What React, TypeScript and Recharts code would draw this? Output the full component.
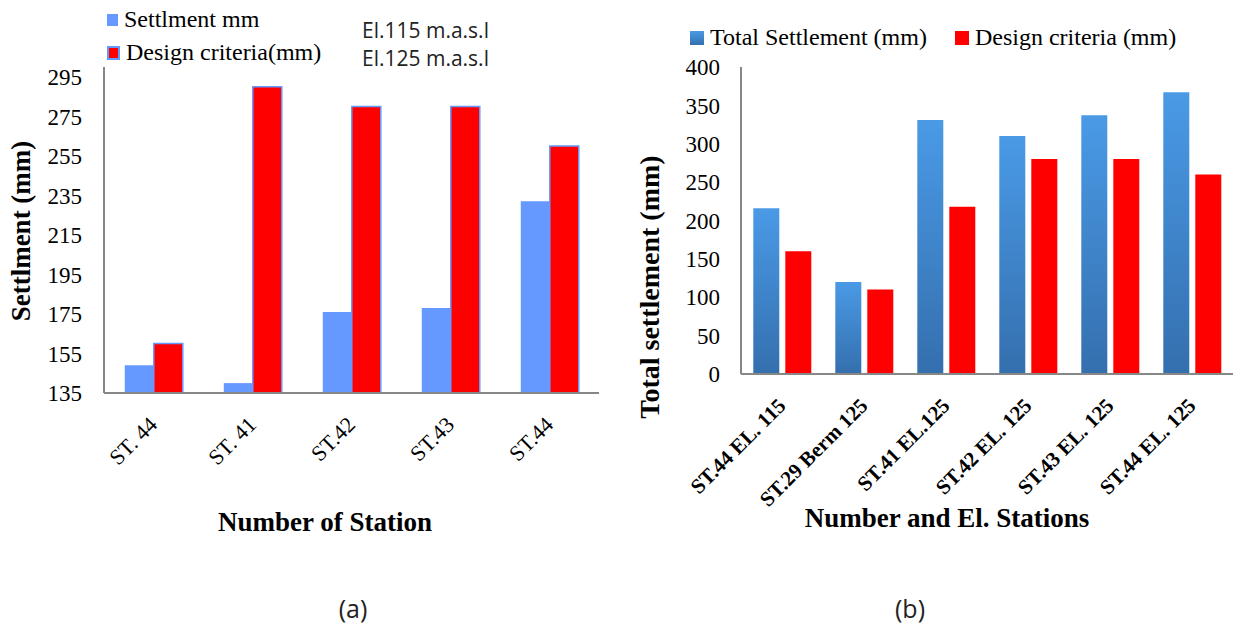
import React from 'react';
import { BarChart, Bar, XAxis, YAxis, Legend } from 'recharts';

// panel (a)
const stationsA = ['ST. 44', 'ST. 41', 'ST.42', 'ST.43', 'ST.44'];
const settlementA = [149, 140, 176, 178, 232];
const criteriaA = [160, 290, 280, 280, 260];
const ticksA = [135, 155, 175, 195, 215, 235, 255, 275, 295];

// panel (b)
const stationsB = ['ST.44 EL. 115', 'ST.29 Berm 125', 'ST.41 EL.125', 'ST.42 EL. 125', 'ST.43 EL. 125', 'ST.44 EL. 125'];
const totalB = [216, 120, 331, 310, 337, 367];
const criteriaB = [160, 110, 218, 280, 280, 260];
const ticksB = [0, 50, 100, 150, 200, 250, 300, 350, 400];

const dataA = stationsA.map((name, i) => ({ name, settlement: settlementA[i], criteria: criteriaA[i] }));
const dataB = stationsB.map((name, i) => ({ name, total: totalB[i], criteria: criteriaB[i] }));

const keysA = ['settlement', 'criteria'];
const keysB = ['total', 'criteria'];

const serif = '"Liberation Serif", "Times New Roman", serif';
const sans = '"Open Sans", "DejaVu Sans", sans-serif';
const frame = '#878787';

const ordered = (payload: any[] | undefined, keys: string[]) =>
  [...(payload || [])].sort((a, b) => keys.indexOf(a.dataKey) - keys.indexOf(b.dataKey));

const slantTick = (fontSize: number, fontWeight: string | number) => (props: any) => {
  const { x, y, payload } = props;
  const ax = x + 5;
  const ay = y + 33;
  return (
    <text
      x={ax}
      y={ay}
      transform={`rotate(-45 ${ax} ${ay})`}
      textAnchor="end"
      fontFamily={serif}
      fontSize={fontSize}
      fontWeight={fontWeight}
      fill="#000"
    >
      {payload.value}
    </text>
  );
};

const LegendA = ({ payload }: any) => (
  <div style={{ fontFamily: serif, fontSize: 24, color: '#000' }}>
    {ordered(payload, keysA).map((p: any) => (
      <div key={p.value} style={{ display: 'flex', alignItems: 'center', height: 33, whiteSpace: 'nowrap' }}>
        <span
          style={{
            display: 'inline-block',
            width: 9,
            height: 10,
            background: p.color,
            border: p.dataKey === 'criteria' ? '2px solid #6699FF' : '1px solid #6699FF',
            marginRight: 6,
          }}
        />
        {p.value}
      </div>
    ))}
  </div>
);

const LegendB = ({ payload }: any) => (
  <div style={{ display: 'flex', alignItems: 'center', fontFamily: serif, fontSize: 24, color: '#000' }}>
    {ordered(payload, keysB).map((p: any, i: number) => (
      <div key={p.value} style={{ display: 'flex', alignItems: 'center', marginRight: i === 0 ? 28 : 0, whiteSpace: 'nowrap' }}>
        <span
          style={{
            display: 'inline-block',
            width: 14,
            height: 14,
            background: p.dataKey === 'total' ? 'linear-gradient(#4A9AE6, #346FAE)' : '#FF0000',
            marginRight: 6,
          }}
        />
        {p.value}
      </div>
    ))}
  </div>
);

const note = (text: string, left: number, top: number, style: React.CSSProperties) => (
  <div style={{ position: 'absolute', left, top, whiteSpace: 'nowrap', lineHeight: 1, ...style }}>{text}</div>
);

const centred = (text: string, cx: number, cy: number, rotate: number, style: React.CSSProperties) => (
  <div
    style={{
      position: 'absolute',
      left: cx,
      top: cy,
      transform: `translate(-50%, -50%) rotate(${rotate}deg)`,
      whiteSpace: 'nowrap',
      lineHeight: 1,
      ...style,
    }}
  >
    {text}
  </div>
);

export default function App() {
  return (
    <div style={{ position: 'absolute', left: 0, top: 0, width: 1234, height: 628, background: '#fff', overflow: 'hidden' }}>
      <div style={{ position: 'absolute', left: 0, top: 0 }}>
        <BarChart
          width={620}
          height={628}
          data={dataA}
          margin={{ top: 67, right: 21, bottom: 135, left: 44 }}
          barCategoryGap="21%"
          barGap={0}
        >
          <XAxis
            dataKey="name"
            height={100}
            interval={0}
            tickLine={false}
            tickSize={0}
            tickMargin={0}
            axisLine={{ stroke: frame, strokeWidth: 2 }}
            tick={slantTick(22, 'normal')}
          />
          <XAxis xAxisId="top" orientation="top" dataKey="name" height={0} tick={false} tickLine={false} axisLine={{ stroke: frame, strokeWidth: 2 }} />
          <YAxis
            domain={[135, 300]}
            ticks={ticksA}
            interval={0}
            width={60}
            allowDataOverflow
            tickLine={false}
            tickSize={0}
            tickMargin={22}
            axisLine={{ stroke: frame, strokeWidth: 2 }}
            tick={{ fontSize: 23, fill: '#000', fontFamily: serif }}
          />
          <YAxis yAxisId="r" orientation="right" type="number" domain={[0, 1]} width={0} tick={false} tickLine={false} axisLine={{ stroke: frame, strokeWidth: 2 }} />
          <Legend
            layout="horizontal"
            verticalAlign="middle"
            align="center"
            content={<LegendA />}
            wrapperStyle={{ top: 3, left: 107, width: 'auto', height: 'auto' }}
          />
          <Bar dataKey="settlement" name="Settlment mm" fill="#6699FF" isAnimationActive={false} />
          <Bar dataKey="criteria" name="Design criteria(mm)" fill="#FF0000" stroke="#6699FF" strokeWidth={1.5} isAnimationActive={false} />
        </BarChart>
      </div>

      <div style={{ position: 'absolute', left: 620, top: 0 }}>
        <BarChart
          width={614}
          height={628}
          data={dataB}
          margin={{ top: 67, right: 1, bottom: 154, left: 61 }}
          barCategoryGap="15%"
          barGap={6}
        >
          <defs>
            <linearGradient id="blueFade" x1="0" y1="0" x2="0" y2="1">
              <stop offset="0%" stopColor="#4A9AE6" />
              <stop offset="100%" stopColor="#346FAE" />
            </linearGradient>
          </defs>
          <XAxis
            dataKey="name"
            height={100}
            interval={0}
            tickLine={false}
            tickSize={0}
            tickMargin={0}
            axisLine={{ stroke: frame, strokeWidth: 2 }}
            tick={slantTick(21, 'bold')}
          />
          <XAxis xAxisId="top" orientation="top" dataKey="name" height={0} tick={false} tickLine={false} axisLine={{ stroke: frame, strokeWidth: 2 }} />
          <YAxis
            domain={[0, 400]}
            ticks={ticksB}
            interval={0}
            width={60}
            tickLine={false}
            tickSize={0}
            tickMargin={21}
            axisLine={{ stroke: frame, strokeWidth: 2 }}
            tick={{ fontSize: 23, fill: '#000', fontFamily: serif }}
          />
          <YAxis yAxisId="r" orientation="right" type="number" domain={[0, 1]} width={0} tick={false} tickLine={false} axisLine={{ stroke: frame, strokeWidth: 2 }} />
          <Legend
            layout="horizontal"
            verticalAlign="middle"
            align="center"
            content={<LegendB />}
            wrapperStyle={{ top: 24, left: 70, width: 'auto', height: 'auto' }}
          />
          <Bar dataKey="total" name="Total Settlement (mm)" fill="url(#blueFade)" isAnimationActive={false} />
          <Bar dataKey="criteria" name="Design criteria (mm)" fill="#FF0000" isAnimationActive={false} />
        </BarChart>
      </div>

      {note('El.115 m.a.s.l', 362, 20, { fontFamily: sans, fontSize: 21, color: '#222' })}
      {note('El.125 m.a.s.l', 362, 48, { fontFamily: sans, fontSize: 21, color: '#222' })}

      {centred('Settlment (mm)', 21, 231, -90, { fontFamily: serif, fontWeight: 'bold', fontSize: 27 })}
      {centred('Number of Station', 325, 522, 0, { fontFamily: serif, fontWeight: 'bold', fontSize: 27 })}
      {centred('Total settlement (mm)', 650, 287, -90, { fontFamily: serif, fontWeight: 'bold', fontSize: 28 })}
      {centred('Number and El. Stations', 947, 518, 0, { fontFamily: serif, fontWeight: 'bold', fontSize: 27 })}

      {centred('(a)', 353, 608, 0, { fontFamily: sans, fontSize: 25, color: '#222' })}
      {centred('(b)', 910, 608, 0, { fontFamily: sans, fontSize: 25, color: '#222' })}
    </div>
  );
}
